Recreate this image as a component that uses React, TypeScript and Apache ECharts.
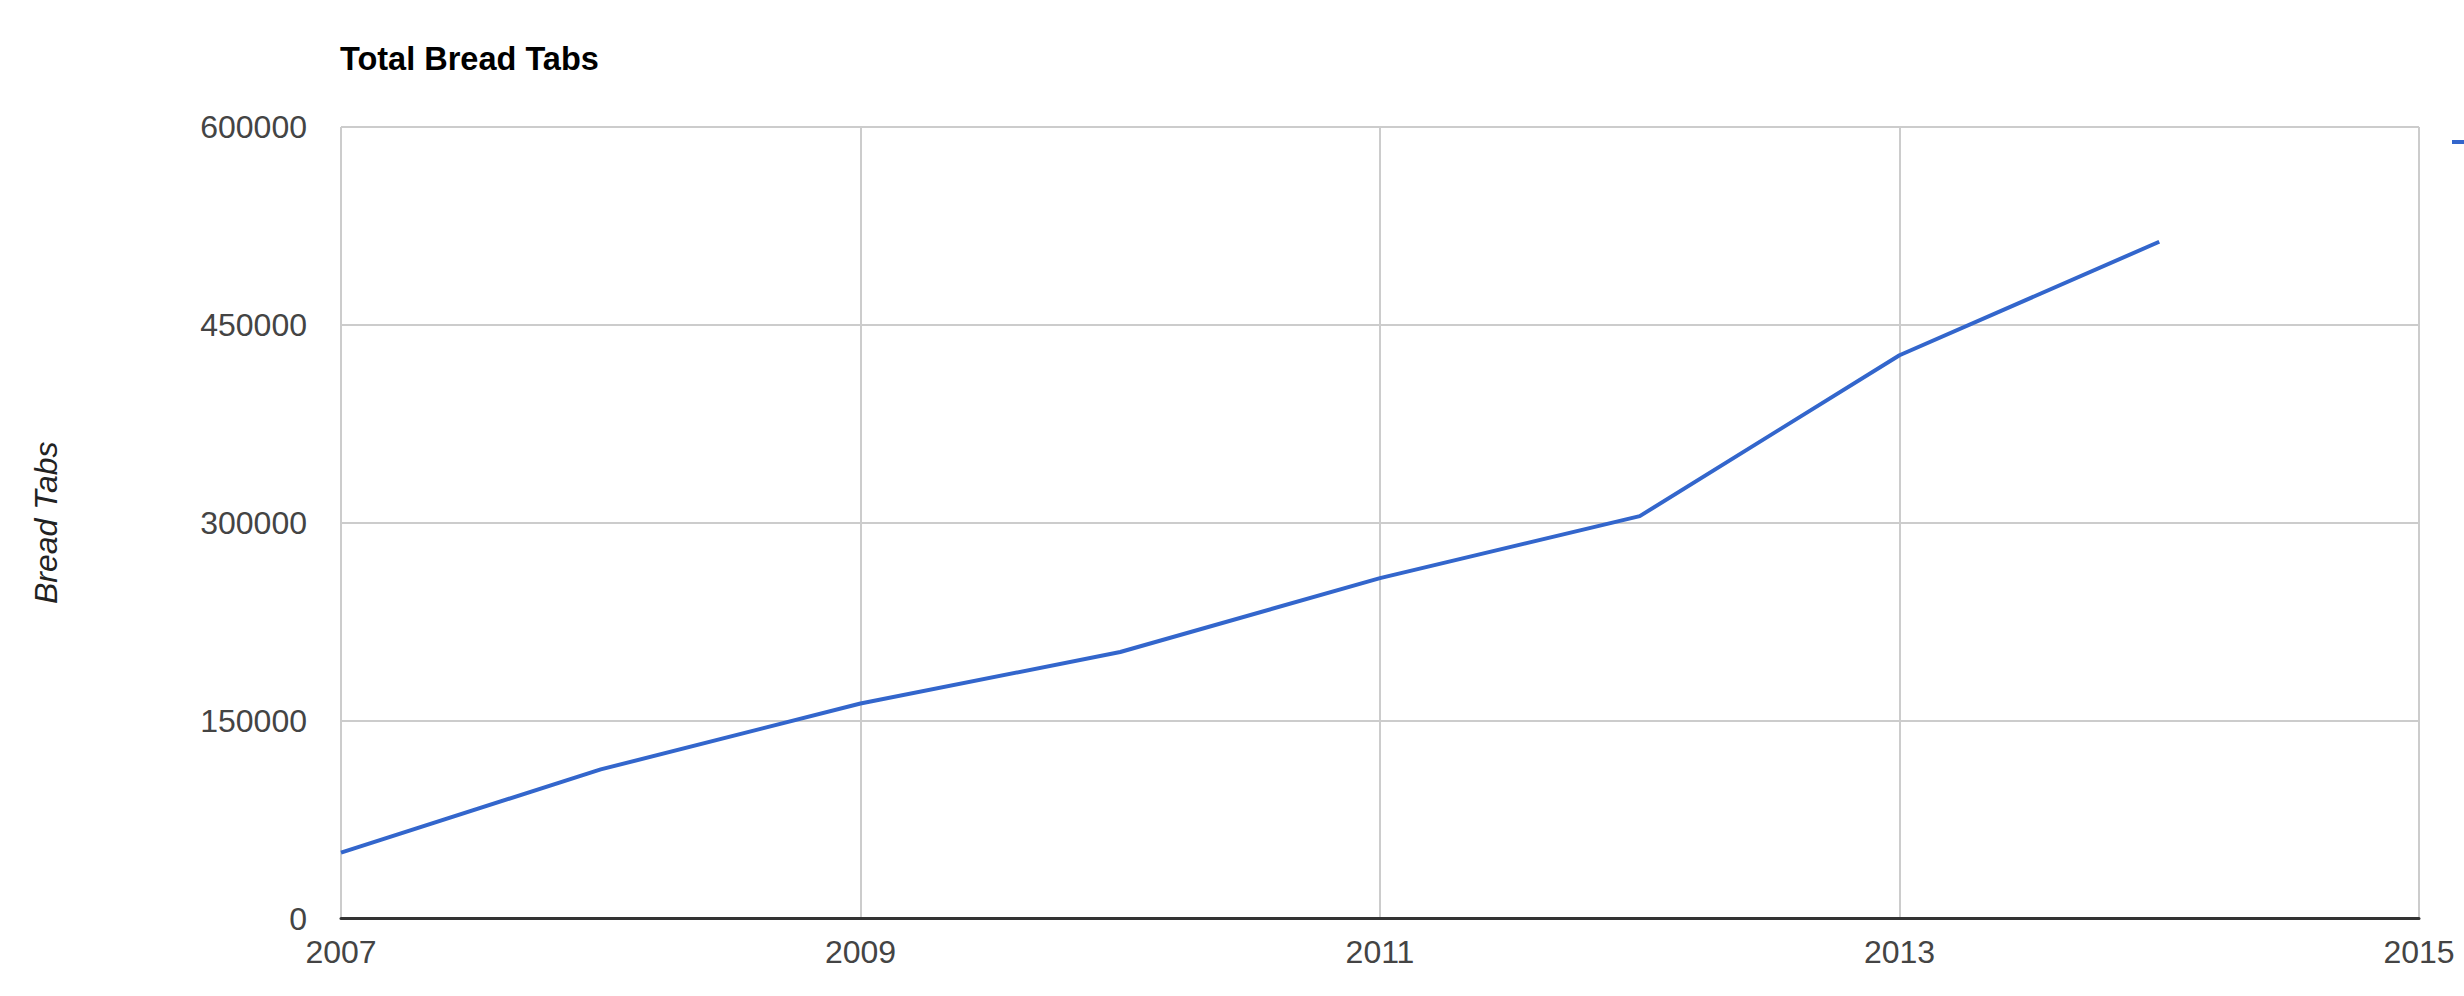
import React, { useEffect, useRef } from "react";
import * as echarts from "echarts";

const title = "Total Bread Tabs";
const yAxisName = "Bread Tabs";
const seriesName = "Total Bread Tabs";
const years = [2007, 2008, 2009, 2010, 2011, 2012, 2013, 2014];
const values = [50000, 113000, 163000, 202000, 258000, 305000, 427000, 513000];
const xMinYear = 2007;
const xMaxYear = 2015;
const xStep = 2;
const yMin = 0;
const yMax = 600000;
const yStep = 150000;

const FONT = '"Liberation Sans", Arial, sans-serif';
const LINE_COLOR = "#3366cc";

export default function App() {
  const ref = useRef<HTMLDivElement>(null);
  useEffect(() => {
    if (!ref.current) return;
    const chart = echarts.init(ref.current, undefined, { renderer: "svg" });
    const data = years.map((y, i) => [y - xMinYear, values[i]]);
    chart.setOption({
      animation: false,
      backgroundColor: "#ffffff",
      title: {
        text: title,
        left: 340,
        top: 43,
        padding: 0,
        textStyle: {
          fontFamily: FONT,
          fontSize: 32.5,
          fontWeight: "bold",
          color: "#000000",
          lineHeight: 32,
        },
      },
      graphic: [
        {
          type: "rect",
          left: 2452,
          top: 140,
          shape: { width: 14, height: 4 },
          style: { fill: LINE_COLOR },
          silent: true,
        },
      ],
      grid: {
        left: 341,
        right: 45,
        top: 127,
        bottom: 77.5,
        containLabel: false,
      },
      xAxis: {
        type: "value",
        min: 0,
        max: xMaxYear - xMinYear,
        interval: xStep,
        axisLine: { show: true, lineStyle: { color: "#333333", width: 3 } },
        axisTick: { show: false },
        splitLine: { show: true, lineStyle: { color: "#cccccc", width: 2 } },
        axisLabel: {
          formatter: (v: number) => String(v + xMinYear),
          fontFamily: FONT,
          fontSize: 32,
          color: "#444444",
          margin: 17,
        },
      },
      yAxis: {
        type: "value",
        min: yMin,
        max: yMax,
        interval: yStep,
        name: yAxisName,
        nameLocation: "middle",
        nameRotate: 90,
        nameGap: 279,
        nameTextStyle: {
          fontFamily: FONT,
          fontSize: 32,
          fontStyle: "italic",
          color: "#222222",
        },
        axisLine: { show: false },
        axisTick: { show: false },
        splitLine: { show: true, lineStyle: { color: "#cccccc", width: 2 } },
        axisLabel: {
          formatter: (v: number) => String(v),
          fontFamily: FONT,
          fontSize: 32,
          color: "#444444",
          margin: 34,
        },
      },
      series: [
        {
          name: seriesName,
          type: "line",
          data,
          showSymbol: false,
          symbol: "none",
          lineStyle: { color: LINE_COLOR, width: 4 },
          itemStyle: { color: LINE_COLOR },
        },
      ],
    });
    return () => chart.dispose();
  }, []);
  return (
    <div
      ref={ref}
      style={{ position: "fixed", left: 0, top: 0, width: 2464, height: 996 }}
    />
  );
}
